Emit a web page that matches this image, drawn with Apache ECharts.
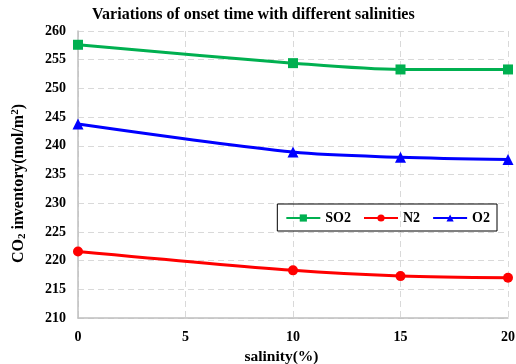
<!DOCTYPE html>
<html><head><meta charset="utf-8">
<script src="https://cdn.jsdelivr.net/npm/echarts@6/dist/echarts.min.js"></script>
<style>html,body{margin:0;padding:0;background:#fff}#c{width:516px;height:364px}</style>
</head><body><div id="c"></div>
<script>
var salinity = [0, 10, 15, 20];
var so2 = [257.6, 254.4, 253.3, 253.3];
var n2 = [221.6, 218.3, 217.3, 217.0];
var o2 = [243.8, 238.9, 238.0, 237.6];
var xTicks = [0, 5, 10, 15, 20];
var yTicks = [210, 215, 220, 225, 230, 235, 240, 245, 250, 255, 260];

var font = '"Liberation Serif", "Times New Roman", serif';
function pairs(v){ return salinity.map(function(s,i){return [s, v[i]];}); }
var chart = echarts.init(document.getElementById('c'));
chart.setOption({
  animation: false,
  title: { text: 'Variations of onset time with different salinities', left: 87, top: 2,
    textStyle: { fontFamily: font, fontWeight: 900, fontSize: 16, color: '#000' } },
  grid: { left: 78, right: 8, top: 31, bottom: 46, containLabel: false, outerBoundsMode: 'none' },
  legend: {
    right: 19, top: 204, itemWidth: 34, itemHeight: 9, itemGap: 12,
    borderColor: '#000', borderWidth: 1, padding: [7, 7, 6, 8],
    textStyle: { fontFamily: font, fontWeight: 'bold', fontSize: 14, color: '#000' },
    data: ['SO2', 'N2', 'O2']
  },
  xAxis: {
    type: 'value', min: 0, max: 20, interval: 5,
    name: 'salinity(%)', nameLocation: 'middle', nameGap: 23,
    nameTextStyle: { fontFamily: font, fontWeight: 'bold', fontSize: 15.5, color: '#000', padding: [0, 23, 0, 0] },
    axisLine: { lineStyle: { color: '#bfbfbf', width: 1.5 } },
    axisTick: { show: false },
    axisLabel: { fontFamily: font, fontWeight: 'bold', fontSize: 14, color: '#000', margin: 12 },
    splitLine: { show: true, lineStyle: { color: '#d9d9d9', type: [6, 4] } }
  },
  yAxis: {
    type: 'value', min: 210, max: 260, interval: 5,
    name: '{a|CO}{s|2}{a| inventory(mol/m}{p|2}{a|)}', nameLocation: 'middle', nameGap: 50, nameRotate: 90,
    nameTextStyle: { padding: [0, 18, 0, 0], rich: {
      a: { fontFamily: font, fontWeight: 'bold', fontSize: 16, color: '#000' },
      s: { fontFamily: font, fontWeight: 'bold', fontSize: 11, color: '#000', verticalAlign: 'bottom', padding: [7,0,0,0] },
      p: { fontFamily: font, fontWeight: 'bold', fontSize: 11, color: '#000', verticalAlign: 'top', padding: [0,0,7,0] }
    } },
    axisLine: { show: true, lineStyle: { color: '#bfbfbf', width: 1.5 } },
    axisTick: { show: false },
    axisLabel: { fontFamily: font, fontWeight: 'bold', fontSize: 14, color: '#000', margin: 12 },
    splitLine: { show: true, lineStyle: { color: '#d9d9d9', type: [6, 4] } }
  },
  series: [
    { name: 'SO2', type: 'line', smooth: 0.3, data: pairs(so2), symbol: 'rect', symbolSize: 10,
      lineStyle: { color: '#00b050', width: 3 }, itemStyle: { color: '#00b050' } },
    { name: 'N2', type: 'line', smooth: 0.3, data: pairs(n2), symbol: 'circle', symbolSize: 10,
      lineStyle: { color: '#ff0000', width: 3 }, itemStyle: { color: '#ff0000' } },
    { name: 'O2', type: 'line', smooth: 0.3, data: pairs(o2), symbol: 'triangle', symbolSize: 11,
      lineStyle: { color: '#0000ff', width: 3 }, itemStyle: { color: '#0000ff' } }
  ]
});
</script></body></html>
